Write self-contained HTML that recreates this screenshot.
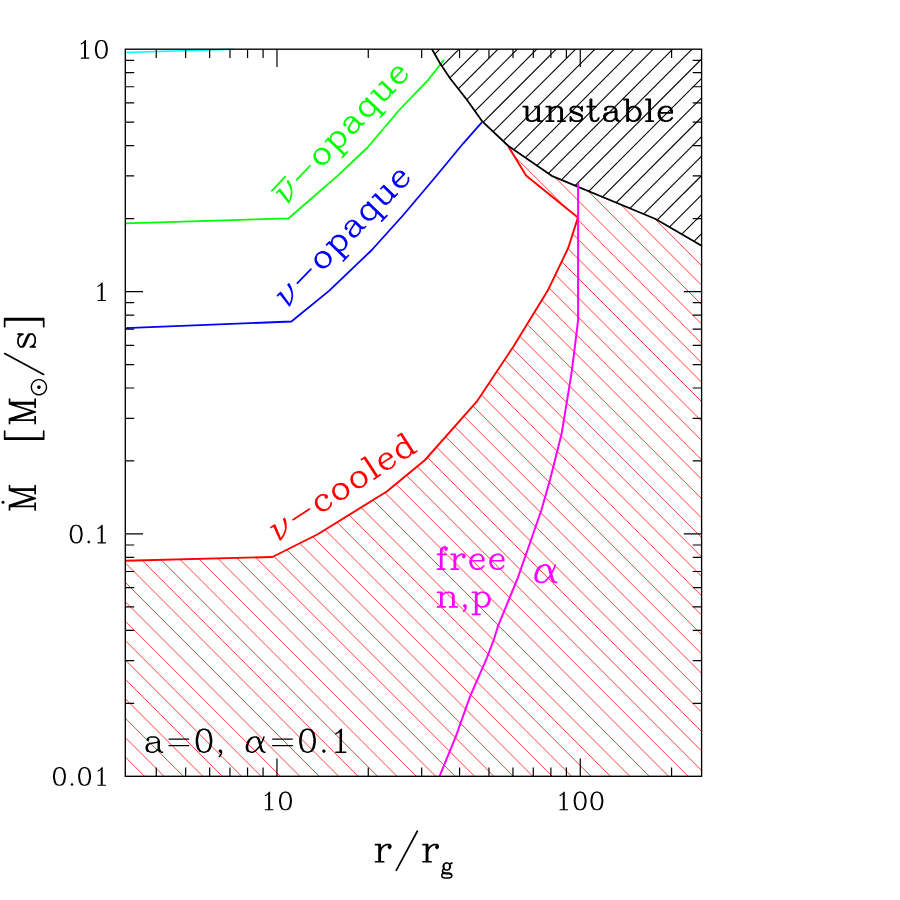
<!DOCTYPE html>
<html><head><meta charset="utf-8"><title>plot</title>
<style>
html,body{margin:0;padding:0;background:#fff;}
body{width:900px;height:900px;overflow:hidden;}
svg{display:block;}
body{font-family:"Liberation Serif",serif;}
</style></head><body>
<svg width="900" height="900" viewBox="0 0 900 900">
<rect width="900" height="900" fill="#fff"/>
<defs>
<clipPath id="cb"><polygon points="432.0,49.2 440.0,63.3 450.0,78.3 466.7,99.5 482.5,121.7 508.4,146.0 551.7,175.8 655.6,219.0 701.6,245.7 701.6,49.2"/></clipPath>
<clipPath id="cr"><polygon points="125.3,560.7 272.4,557.0 318.2,534.0 386.8,491.5 425.0,460.0 476.7,401.7 513.3,346.7 547.9,290.3 568.2,248.0 577.9,217.6 526.0,175.4 508.6,146.8 551.7,175.8 655.6,219.0 701.6,245.7 701.6,776.3 125.3,776.3"/></clipPath>
</defs>
<g clip-path="url(#cr)" stroke="#ff3030" stroke-width="0.92" fill="none">
<line x1="120.30" y1="849.05" x2="706.60" y2="1435.35"/>
<line x1="120.30" y1="829.64" x2="706.60" y2="1415.94"/>
<line x1="120.30" y1="810.23" x2="706.60" y2="1396.53"/>
<line x1="120.30" y1="790.82" x2="706.60" y2="1377.12"/>
<line x1="120.30" y1="771.41" x2="706.60" y2="1357.71"/>
<line x1="120.30" y1="752.00" x2="706.60" y2="1338.30"/>
<line x1="120.30" y1="732.59" x2="706.60" y2="1318.89"/>
<line x1="120.30" y1="713.18" x2="706.60" y2="1299.48"/>
<line x1="120.30" y1="693.77" x2="706.60" y2="1280.07"/>
<line x1="120.30" y1="674.36" x2="706.60" y2="1260.66"/>
<line x1="120.30" y1="654.95" x2="706.60" y2="1241.25"/>
<line x1="120.30" y1="635.54" x2="706.60" y2="1221.84"/>
<line x1="120.30" y1="616.13" x2="706.60" y2="1202.43"/>
<line x1="120.30" y1="596.72" x2="706.60" y2="1183.02"/>
<line x1="120.30" y1="577.31" x2="706.60" y2="1163.61"/>
<line x1="120.30" y1="557.90" x2="706.60" y2="1144.20"/>
<line x1="120.30" y1="538.49" x2="706.60" y2="1124.79"/>
<line x1="120.30" y1="519.08" x2="706.60" y2="1105.38"/>
<line x1="120.30" y1="499.67" x2="706.60" y2="1085.97"/>
<line x1="120.30" y1="480.26" x2="706.60" y2="1066.56"/>
<line x1="120.30" y1="460.85" x2="706.60" y2="1047.15"/>
<line x1="120.30" y1="441.44" x2="706.60" y2="1027.74"/>
<line x1="120.30" y1="422.03" x2="706.60" y2="1008.33"/>
<line x1="120.30" y1="402.62" x2="706.60" y2="988.92"/>
<line x1="120.30" y1="383.21" x2="706.60" y2="969.51"/>
<line x1="120.30" y1="363.80" x2="706.60" y2="950.10"/>
<line x1="120.30" y1="344.39" x2="706.60" y2="930.69"/>
<line x1="120.30" y1="324.98" x2="706.60" y2="911.28"/>
<line x1="120.30" y1="305.57" x2="706.60" y2="891.87"/>
<line x1="120.30" y1="286.16" x2="706.60" y2="872.46"/>
<line x1="120.30" y1="266.75" x2="706.60" y2="853.05"/>
<line x1="120.30" y1="247.34" x2="706.60" y2="833.64"/>
<line x1="120.30" y1="227.93" x2="706.60" y2="814.23"/>
<line x1="120.30" y1="208.52" x2="706.60" y2="794.82"/>
<line x1="120.30" y1="189.11" x2="706.60" y2="775.41"/>
<line x1="120.30" y1="169.70" x2="706.60" y2="756.00"/>
<line x1="120.30" y1="150.29" x2="706.60" y2="736.59"/>
<line x1="120.30" y1="130.88" x2="706.60" y2="717.18"/>
<line x1="120.30" y1="111.47" x2="706.60" y2="697.77"/>
<line x1="120.30" y1="92.06" x2="706.60" y2="678.36"/>
<line x1="120.30" y1="72.65" x2="706.60" y2="658.95"/>
<line x1="120.30" y1="53.24" x2="706.60" y2="639.54"/>
<line x1="120.30" y1="33.83" x2="706.60" y2="620.13"/>
<line x1="120.30" y1="14.42" x2="706.60" y2="600.72"/>
<line x1="120.30" y1="-4.99" x2="706.60" y2="581.31"/>
<line x1="120.30" y1="-24.40" x2="706.60" y2="561.90"/>
<line x1="120.30" y1="-43.81" x2="706.60" y2="542.49"/>
<line x1="120.30" y1="-63.22" x2="706.60" y2="523.08"/>
<line x1="120.30" y1="-82.63" x2="706.60" y2="503.67"/>
<line x1="120.30" y1="-102.04" x2="706.60" y2="484.26"/>
<line x1="120.30" y1="-121.45" x2="706.60" y2="464.85"/>
<line x1="120.30" y1="-140.86" x2="706.60" y2="445.44"/>
<line x1="120.30" y1="-160.27" x2="706.60" y2="426.03"/>
<line x1="120.30" y1="-179.68" x2="706.60" y2="406.62"/>
<line x1="120.30" y1="-199.09" x2="706.60" y2="387.21"/>
<line x1="120.30" y1="-218.50" x2="706.60" y2="367.80"/>
<line x1="120.30" y1="-237.91" x2="706.60" y2="348.39"/>
<line x1="120.30" y1="-257.32" x2="706.60" y2="328.98"/>
<line x1="120.30" y1="-276.73" x2="706.60" y2="309.57"/>
<line x1="120.30" y1="-296.14" x2="706.60" y2="290.16"/>
<line x1="120.30" y1="-315.55" x2="706.60" y2="270.75"/>
<line x1="120.30" y1="-334.96" x2="706.60" y2="251.34"/>
<line x1="120.30" y1="-354.37" x2="706.60" y2="231.93"/>
<line x1="120.30" y1="-373.78" x2="706.60" y2="212.52"/>
<line x1="120.30" y1="-393.19" x2="706.60" y2="193.11"/>
<line x1="120.30" y1="-412.60" x2="706.60" y2="173.70"/>
<line x1="120.30" y1="-432.01" x2="706.60" y2="154.29"/>
<line x1="120.30" y1="-451.42" x2="706.60" y2="134.88"/>
<line x1="120.30" y1="-470.83" x2="706.60" y2="115.47"/>
<line x1="120.30" y1="-490.24" x2="706.60" y2="96.06"/>
<line x1="120.30" y1="-509.65" x2="706.60" y2="76.65"/>
<line x1="120.30" y1="-529.06" x2="706.60" y2="57.24"/>
</g>
<g clip-path="url(#cb)" stroke="#000" stroke-width="1.1" fill="none">
<line x1="125.30" y1="324.78" x2="706.60" y2="-256.52"/>
<line x1="125.30" y1="344.19" x2="706.60" y2="-237.11"/>
<line x1="125.30" y1="363.60" x2="706.60" y2="-217.70"/>
<line x1="125.30" y1="383.01" x2="706.60" y2="-198.29"/>
<line x1="125.30" y1="402.42" x2="706.60" y2="-178.88"/>
<line x1="125.30" y1="421.83" x2="706.60" y2="-159.47"/>
<line x1="125.30" y1="441.24" x2="706.60" y2="-140.06"/>
<line x1="125.30" y1="460.65" x2="706.60" y2="-120.65"/>
<line x1="125.30" y1="480.06" x2="706.60" y2="-101.24"/>
<line x1="125.30" y1="499.47" x2="706.60" y2="-81.83"/>
<line x1="125.30" y1="518.88" x2="706.60" y2="-62.42"/>
<line x1="125.30" y1="538.29" x2="706.60" y2="-43.01"/>
<line x1="125.30" y1="557.70" x2="706.60" y2="-23.60"/>
<line x1="125.30" y1="577.11" x2="706.60" y2="-4.19"/>
<line x1="125.30" y1="596.52" x2="706.60" y2="15.22"/>
<line x1="125.30" y1="615.93" x2="706.60" y2="34.63"/>
<line x1="125.30" y1="635.34" x2="706.60" y2="54.04"/>
<line x1="125.30" y1="654.75" x2="706.60" y2="73.45"/>
<line x1="125.30" y1="674.16" x2="706.60" y2="92.86"/>
<line x1="125.30" y1="693.57" x2="706.60" y2="112.27"/>
<line x1="125.30" y1="712.98" x2="706.60" y2="131.68"/>
<line x1="125.30" y1="732.39" x2="706.60" y2="151.09"/>
<line x1="125.30" y1="751.80" x2="706.60" y2="170.50"/>
<line x1="125.30" y1="771.21" x2="706.60" y2="189.91"/>
<line x1="125.30" y1="790.62" x2="706.60" y2="209.32"/>
<line x1="125.30" y1="810.03" x2="706.60" y2="228.73"/>
<line x1="125.30" y1="829.44" x2="706.60" y2="248.14"/>
</g>
<polyline points="125.3,52.5 233.0,49.2" fill="none" stroke="#00ffff" stroke-width="1.6"/>
<polyline points="125.3,223.3 288.7,218.3 337.8,175.6 367.5,147.5 399.3,110.0 428.7,79.3 444.0,59.8" fill="none" stroke="#00ff00" stroke-width="1.8" stroke-linejoin="round"/>
<polyline points="125.3,328.2 291.4,321.5 329.0,290.9 371.8,250.0 403.3,215.0 435.0,177.5 463.3,143.3 481.8,122.3" fill="none" stroke="#0000ff" stroke-width="1.8" stroke-linejoin="round"/>
<polyline points="125.3,560.7 272.4,557.0 318.2,534.0 386.8,491.5 425.0,460.0 476.7,401.7 513.3,346.7 547.9,290.3 568.2,248.0 577.9,217.6 526.0,175.4 508.6,146.8" fill="none" stroke="#ff0000" stroke-width="1.9" stroke-linejoin="round"/>
<polyline points="432.0,49.2 440.0,63.3 450.0,78.3 466.7,99.5 482.5,121.7 508.4,146.0 551.7,175.8 655.6,219.0 701.6,245.7" fill="none" stroke="#000" stroke-width="1.8" stroke-linejoin="round"/>
<polyline points="578.1,183.0 578.1,320.0 574.3,351.3 571.5,373.3 561.7,433.3 550.0,480.0 541.1,511.0 531.0,540.0 517.8,577.8 497.8,626.7 493.7,640.0 486.7,658.3 470.0,696.7 455.8,736.7 439.5,776.3" fill="none" stroke="#ff00ff" stroke-width="2" stroke-linejoin="round"/>
<rect x="125.3" y="49.2" width="576.3" height="727.1" fill="none" stroke="#000" stroke-width="1.35"/>
<path d="M156.26,776.3v-8.9M156.26,49.2v8.9M185.65,776.3v-8.9M185.65,49.2v8.9M209.67,776.3v-8.9M209.67,49.2v8.9M229.97,776.3v-8.9M229.97,49.2v8.9M247.56,776.3v-8.9M247.56,49.2v8.9M263.08,776.3v-8.9M263.08,49.2v8.9M276.96,776.3v-17.8M276.96,49.2v17.8M368.27,776.3v-8.9M368.27,49.2v8.9M421.68,776.3v-8.9M421.68,49.2v8.9M459.57,776.3v-8.9M459.57,49.2v8.9M488.97,776.3v-8.9M488.97,49.2v8.9M512.98,776.3v-8.9M512.98,49.2v8.9M533.29,776.3v-8.9M533.29,49.2v8.9M550.88,776.3v-8.9M550.88,49.2v8.9M566.39,776.3v-8.9M566.39,49.2v8.9M580.27,776.3v-17.8M580.27,49.2v17.8M671.58,776.3v-8.9M671.58,49.2v8.9M125.3,703.34h8.9M701.6,703.34h-8.9M125.3,660.66h8.9M701.6,660.66h-8.9M125.3,630.38h8.9M701.6,630.38h-8.9M125.3,606.89h8.9M701.6,606.89h-8.9M125.3,587.70h8.9M701.6,587.70h-8.9M125.3,571.48h8.9M701.6,571.48h-8.9M125.3,557.42h8.9M701.6,557.42h-8.9M125.3,545.02h8.9M701.6,545.02h-8.9M125.3,533.93h17.8M701.6,533.93h-17.8M125.3,460.97h8.9M701.6,460.97h-8.9M125.3,418.30h8.9M701.6,418.30h-8.9M125.3,388.01h8.9M701.6,388.01h-8.9M125.3,364.53h8.9M701.6,364.53h-8.9M125.3,345.34h8.9M701.6,345.34h-8.9M125.3,329.11h8.9M701.6,329.11h-8.9M125.3,315.05h8.9M701.6,315.05h-8.9M125.3,302.66h8.9M701.6,302.66h-8.9M125.3,291.57h17.8M701.6,291.57h-17.8M125.3,218.61h8.9M701.6,218.61h-8.9M125.3,175.93h8.9M701.6,175.93h-8.9M125.3,145.65h8.9M701.6,145.65h-8.9M125.3,122.16h8.9M701.6,122.16h-8.9M125.3,102.97h8.9M701.6,102.97h-8.9M125.3,86.74h8.9M701.6,86.74h-8.9M125.3,72.69h8.9M701.6,72.69h-8.9M125.3,60.29h8.9M701.6,60.29h-8.9" stroke="#000" stroke-width="1.2" fill="none"/>
<path d="M265.36,795.48L267.04,794.64L269.55,792.13L269.55,809.72M268.71,792.96L268.71,809.72M265.36,809.72L272.90,809.72M284.63,792.13L282.12,792.96L280.44,795.48L279.61,799.67L279.61,802.18L280.44,806.37L282.12,808.89L284.63,809.72L286.31,809.72L288.82,808.89L290.50,806.37L291.34,802.18L291.34,799.67L290.50,795.48L288.82,792.96L286.31,792.13L284.63,792.13M284.63,792.13L282.96,792.96L282.12,793.80L281.28,795.48L280.44,799.67L280.44,802.18L281.28,806.37L282.12,808.05L282.96,808.89L284.63,809.72M286.31,809.72L287.99,808.89L288.82,808.05L289.66,806.37L290.50,802.18L290.50,799.67L289.66,795.48L288.82,793.80L287.99,792.96L286.31,792.13" fill="none" stroke="#000" stroke-width="1.15" stroke-linecap="round" stroke-linejoin="round"/>
<path d="M560.03,795.48L561.71,794.64L564.22,792.13L564.22,809.72M563.38,792.96L563.38,809.72M560.03,809.72L567.57,809.72M579.31,792.13L576.79,792.96L575.12,795.48L574.28,799.67L574.28,802.18L575.12,806.37L576.79,808.89L579.31,809.72L580.98,809.72L583.50,808.89L585.17,806.37L586.01,802.18L586.01,799.67L585.17,795.48L583.50,792.96L580.98,792.13L579.31,792.13M579.31,792.13L577.63,792.96L576.79,793.80L575.95,795.48L575.12,799.67L575.12,802.18L575.95,806.37L576.79,808.05L577.63,808.89L579.31,809.72M580.98,809.72L582.66,808.89L583.50,808.05L584.33,806.37L585.17,802.18L585.17,799.67L584.33,795.48L583.50,793.80L582.66,792.96L580.98,792.13M596.07,792.13L593.55,792.96L591.88,795.48L591.04,799.67L591.04,802.18L591.88,806.37L593.55,808.89L596.07,809.72L597.74,809.72L600.25,808.89L601.93,806.37L602.77,802.18L602.77,799.67L601.93,795.48L600.25,792.96L597.74,792.13L596.07,792.13M596.07,792.13L594.39,792.96L593.55,793.80L592.71,795.48L591.88,799.67L591.88,802.18L592.71,806.37L593.55,808.05L594.39,808.89L596.07,809.72M597.74,809.72L599.42,808.89L600.25,808.05L601.09,806.37L601.93,802.18L601.93,799.67L601.09,795.48L600.25,793.80L599.42,792.96L597.74,792.13" fill="none" stroke="#000" stroke-width="1.15" stroke-linecap="round" stroke-linejoin="round"/>
<path d="M81.25,43.88L82.92,43.04L85.44,40.53L85.44,58.12M84.60,41.36L84.60,58.12M81.25,58.12L88.79,58.12M100.52,40.53L98.01,41.36L96.33,43.88L95.49,48.07L95.49,50.58L96.33,54.77L98.01,57.29L100.52,58.12L102.20,58.12L104.71,57.29L106.39,54.77L107.22,50.58L107.22,48.07L106.39,43.88L104.71,41.36L102.20,40.53L100.52,40.53M100.52,40.53L98.84,41.36L98.01,42.20L97.17,43.88L96.33,48.07L96.33,50.58L97.17,54.77L98.01,56.45L98.84,57.29L100.52,58.12M102.20,58.12L103.87,57.29L104.71,56.45L105.55,54.77L106.39,50.58L106.39,48.07L105.55,43.88L104.71,42.20L103.87,41.36L102.20,40.53" fill="none" stroke="#000" stroke-width="1.15" stroke-linecap="round" stroke-linejoin="round"/>
<path d="M97.98,286.25L99.66,285.41L102.17,282.89L102.17,300.49M101.33,283.73L101.33,300.49M97.98,300.49L105.52,300.49" fill="none" stroke="#000" stroke-width="1.15" stroke-linecap="round" stroke-linejoin="round"/>
<path d="M75.36,525.26L72.84,526.10L71.17,528.61L70.33,532.80L70.33,535.32L71.17,539.51L72.84,542.02L75.36,542.86L77.03,542.86L79.55,542.02L81.22,539.51L82.06,535.32L82.06,532.80L81.22,528.61L79.55,526.10L77.03,525.26L75.36,525.26M75.36,525.26L73.68,526.10L72.84,526.94L72.00,528.61L71.17,532.80L71.17,535.32L72.00,539.51L72.84,541.18L73.68,542.02L75.36,542.86M77.03,542.86L78.71,542.02L79.55,541.18L80.38,539.51L81.22,535.32L81.22,532.80L80.38,528.61L79.55,526.94L78.71,526.10L77.03,525.26M88.76,541.18L87.93,542.02L88.76,542.86L89.60,542.02L88.76,541.18M97.98,528.61L99.66,527.77L102.17,525.26L102.17,542.86M101.33,526.10L101.33,542.86M97.98,542.86L105.52,542.86" fill="none" stroke="#000" stroke-width="1.15" stroke-linecap="round" stroke-linejoin="round"/>
<path d="M58.60,767.63L56.08,768.46L54.41,770.98L53.57,775.17L53.57,777.68L54.41,781.87L56.08,784.39L58.60,785.22L60.27,785.22L62.79,784.39L64.46,781.87L65.30,777.68L65.30,775.17L64.46,770.98L62.79,768.46L60.27,767.63L58.60,767.63M58.60,767.63L56.92,768.46L56.08,769.30L55.24,770.98L54.41,775.17L54.41,777.68L55.24,781.87L56.08,783.55L56.92,784.39L58.60,785.22M60.27,785.22L61.95,784.39L62.79,783.55L63.62,781.87L64.46,777.68L64.46,775.17L63.62,770.98L62.79,769.30L61.95,768.46L60.27,767.63M72.00,783.55L71.17,784.39L72.00,785.22L72.84,784.39L72.00,783.55M83.74,767.63L81.22,768.46L79.55,770.98L78.71,775.17L78.71,777.68L79.55,781.87L81.22,784.39L83.74,785.22L85.41,785.22L87.93,784.39L89.60,781.87L90.44,777.68L90.44,775.17L89.60,770.98L87.93,768.46L85.41,767.63L83.74,767.63M83.74,767.63L82.06,768.46L81.22,769.30L80.38,770.98L79.55,775.17L79.55,777.68L80.38,781.87L81.22,783.55L82.06,784.39L83.74,785.22M85.41,785.22L87.09,784.39L87.93,783.55L88.76,781.87L89.60,777.68L89.60,775.17L88.76,770.98L87.93,769.30L87.09,768.46L85.41,767.63M97.98,770.98L99.66,770.14L102.17,767.63L102.17,785.22M101.33,768.46L101.33,785.22M97.98,785.22L105.52,785.22" fill="none" stroke="#000" stroke-width="1.15" stroke-linecap="round" stroke-linejoin="round"/>
<path d="M379.06,844.67L379.06,861.75M380.23,844.67L380.23,861.75M380.23,851.99L381.40,848.33L383.74,845.89L386.08,844.67L389.59,844.67L390.76,845.89L390.76,847.11L389.59,848.33L388.42,847.11L389.59,845.89M375.55,844.67L380.23,844.67M375.55,861.75L383.74,861.75" fill="none" stroke="#000" stroke-width="1.7" stroke-linecap="round" stroke-linejoin="round"/>

<path d="M417.31,831.25L396.25,870.29" fill="none" stroke="#000" stroke-width="1.7" stroke-linecap="round" stroke-linejoin="round"/>
<path d="M426.46,844.67L426.46,861.75M427.63,844.67L427.63,861.75M427.63,851.99L428.80,848.33L431.14,845.89L433.48,844.67L436.99,844.67L438.16,845.89L438.16,847.11L436.99,848.33L435.82,847.11L436.99,845.89M422.95,844.67L427.63,844.67M422.95,861.75L431.14,861.75" fill="none" stroke="#000" stroke-width="1.7" stroke-linecap="round" stroke-linejoin="round"/>

<path d="M446.07,862.90L444.63,863.62L443.91,864.34L443.19,865.78L443.19,867.22L443.91,868.66L444.63,869.38L446.07,870.10L447.51,870.10L448.95,869.38L449.67,868.66L450.39,867.22L450.39,865.78L449.67,864.34L448.95,863.62L447.51,862.90L446.07,862.90M444.63,863.62L443.91,865.06L443.91,867.94L444.63,869.38M448.95,869.38L449.67,867.94L449.67,865.06L448.95,863.62M449.67,864.34L450.39,863.62L451.83,862.90L451.83,863.62L450.39,863.62M443.91,868.66L443.19,869.38L442.47,870.82L442.47,871.54L443.19,872.98L445.35,873.70L448.95,873.70L451.11,874.42L451.83,875.14M442.47,871.54L443.19,872.26L445.35,872.98L448.95,872.98L451.11,873.70L451.83,875.14L451.83,875.86L451.11,877.30L448.95,878.02L444.63,878.02L442.47,877.30L441.75,875.86L441.75,875.14L442.47,873.70L444.63,872.98" fill="none" stroke="#000" stroke-width="1.5" stroke-linecap="round" stroke-linejoin="round"/>
<g transform="rotate(-90)">
<path d="M-506.47,9.53L-506.47,35.15M-505.31,9.53L-498.35,31.49M-506.47,9.53L-498.35,35.15M-490.23,9.53L-498.35,35.15M-490.23,9.53L-490.23,35.15M-489.07,9.53L-489.07,35.15M-509.95,9.53L-505.31,9.53M-490.23,9.53L-485.59,9.53M-509.95,35.15L-502.99,35.15M-493.71,35.15L-485.59,35.15" fill="none" stroke="#000" stroke-width="1.7" stroke-linecap="round" stroke-linejoin="round"/>
<circle cx="-502.3" cy="3.0" r="1.5" fill="#000"/>

<path d="M-439.15,4.65L-439.15,43.69M-437.99,4.65L-437.99,43.69M-439.15,4.65L-431.03,4.65M-439.15,43.69L-431.03,43.69" fill="none" stroke="#000" stroke-width="1.7" stroke-linecap="round" stroke-linejoin="round"/>
<path d="M-420.07,9.53L-420.07,35.15M-418.91,9.53L-411.95,31.49M-420.07,9.53L-411.95,35.15M-403.83,9.53L-411.95,35.15M-403.83,9.53L-403.83,35.15M-402.67,9.53L-402.67,35.15M-423.55,9.53L-418.91,9.53M-403.83,9.53L-399.19,9.53M-423.55,35.15L-416.59,35.15M-407.31,35.15L-399.19,35.15" fill="none" stroke="#000" stroke-width="1.7" stroke-linecap="round" stroke-linejoin="round"/>
<path d="M-388.26,31.36L-390.42,32.08L-392.58,33.52L-394.02,35.68L-394.74,37.84L-394.74,40.00L-394.02,42.16L-392.58,44.32L-390.42,45.76L-388.26,46.48L-386.10,46.48L-383.94,45.76L-381.78,44.32L-380.34,42.16L-379.62,40.00L-379.62,37.84L-380.34,35.68L-381.78,33.52L-383.94,32.08L-386.10,31.36L-388.26,31.36M-387.54,37.84L-388.26,38.56L-388.26,39.28L-387.54,40.00L-386.82,40.00L-386.10,39.28L-386.10,38.56L-386.82,37.84L-387.54,37.84M-387.54,38.56L-387.54,39.28L-386.82,39.28L-386.82,38.56L-387.54,38.56" fill="none" stroke="#000" stroke-width="1.4" stroke-linecap="round" stroke-linejoin="round"/>
<path d="M-353.57,4.65L-374.45,43.69" fill="none" stroke="#000" stroke-width="1.7" stroke-linecap="round" stroke-linejoin="round"/>
<path d="M-335.35,20.51L-334.19,18.07L-334.19,22.95L-335.35,20.51L-336.51,19.29L-338.83,18.07L-343.47,18.07L-345.79,19.29L-346.95,20.51L-346.95,22.95L-345.79,24.17L-343.47,25.39L-337.67,27.83L-335.35,29.05L-334.19,30.27M-346.95,21.73L-345.79,22.95L-343.47,24.17L-337.67,26.61L-335.35,27.83L-334.19,29.05L-334.19,32.71L-335.35,33.93L-337.67,35.15L-342.31,35.15L-344.63,33.93L-345.79,32.71L-346.95,30.27L-346.95,35.15L-345.79,32.71" fill="none" stroke="#000" stroke-width="1.7" stroke-linecap="round" stroke-linejoin="round"/>
<path d="M-319.79,4.65L-319.79,43.69M-318.63,4.65L-318.63,43.69M-326.75,4.65L-318.63,4.65M-326.75,43.69L-318.63,43.69" fill="none" stroke="#000" stroke-width="1.7" stroke-linecap="round" stroke-linejoin="round"/>
</g>
<path d="M526.47,106.66L526.47,117.99L527.52,120.05L530.66,121.08L532.76,121.08L535.90,120.05L538.00,117.99M527.52,106.66L527.52,117.99L528.56,120.05L530.66,121.08M538.00,106.66L538.00,121.08M539.04,106.66L539.04,121.08M523.32,106.66L527.52,106.66M534.85,106.66L539.04,106.66M538.00,121.08L542.19,121.08M549.52,106.66L549.52,121.08M550.57,106.66L550.57,121.08M550.57,109.75L552.67,107.69L555.81,106.66L557.91,106.66L561.05,107.69L562.10,109.75L562.10,121.08M557.91,106.66L560.00,107.69L561.05,109.75L561.05,121.08M546.38,106.66L550.57,106.66M546.38,121.08L553.72,121.08M557.91,121.08L565.25,121.08M580.97,108.72L582.01,106.66L582.01,110.78L580.97,108.72L579.92,107.69L577.82,106.66L573.63,106.66L571.53,107.69L570.49,108.72L570.49,110.78L571.53,111.81L573.63,112.84L578.87,114.90L580.97,115.93L582.01,116.96M570.49,109.75L571.53,110.78L573.63,111.81L578.87,113.87L580.97,114.90L582.01,115.93L582.01,119.02L580.97,120.05L578.87,121.08L574.68,121.08L572.58,120.05L571.53,119.02L570.49,116.96L570.49,121.08L571.53,119.02M590.40,99.45L590.40,116.96L591.45,120.05L593.54,121.08L595.64,121.08L597.73,120.05L598.78,117.99M591.45,99.45L591.45,116.96L592.49,120.05L593.54,121.08M587.25,106.66L595.64,106.66M606.12,108.72L606.12,109.75L605.07,109.75L605.07,108.72L606.12,107.69L608.21,106.66L612.41,106.66L614.50,107.69L615.55,108.72L616.60,110.78L616.60,117.99L617.65,120.05L618.69,121.08M615.55,108.72L615.55,117.99L616.60,120.05L618.69,121.08L619.74,121.08M615.55,110.78L614.50,111.81L608.21,112.84L605.07,113.87L604.02,115.93L604.02,117.99L605.07,120.05L608.21,121.08L611.36,121.08L613.45,120.05L615.55,117.99M608.21,112.84L606.12,113.87L605.07,115.93L605.07,117.99L606.12,120.05L608.21,121.08M627.08,99.45L627.08,121.08M628.13,99.45L628.13,121.08M628.13,109.75L630.22,107.69L632.32,106.66L634.41,106.66L637.56,107.69L639.65,109.75L640.70,112.84L640.70,114.90L639.65,117.99L637.56,120.05L634.41,121.08L632.32,121.08L630.22,120.05L628.13,117.99M634.41,106.66L636.51,107.69L638.61,109.75L639.65,112.84L639.65,114.90L638.61,117.99L636.51,120.05L634.41,121.08M623.93,99.45L628.13,99.45M649.09,99.45L649.09,121.08M650.13,99.45L650.13,121.08M645.94,99.45L650.13,99.45M645.94,121.08L653.28,121.08M659.57,112.84L672.14,112.84L672.14,110.78L671.09,108.72L670.05,107.69L667.95,106.66L664.81,106.66L661.66,107.69L659.57,109.75L658.52,112.84L658.52,114.90L659.57,117.99L661.66,120.05L664.81,121.08L666.90,121.08L670.05,120.05L672.14,117.99M671.09,112.84L671.09,109.75L670.05,107.69M664.81,106.66L662.71,107.69L660.61,109.75L659.57,112.84L659.57,114.90L660.61,117.99L662.71,120.05L664.81,121.08" fill="none" stroke="#000" stroke-width="1.85" stroke-linecap="round" stroke-linejoin="round"/>
<path d="M445.95,548.15L444.90,549.20L445.95,550.25L447.00,549.20L447.00,548.15L445.95,547.10L443.85,547.10L441.75,548.15L440.70,550.25L440.70,569.15M443.85,547.10L442.80,548.15L441.75,550.25L441.75,569.15M437.55,554.45L445.95,554.45M437.55,569.15L444.90,569.15M454.35,554.45L454.35,569.15M455.40,554.45L455.40,569.15M455.40,560.75L456.45,557.60L458.55,555.50L460.65,554.45L463.80,554.45L464.85,555.50L464.85,556.55L463.80,557.60L462.75,556.55L463.80,555.50M451.20,554.45L455.40,554.45M451.20,569.15L458.55,569.15M471.15,560.75L483.75,560.75L483.75,558.65L482.70,556.55L481.65,555.50L479.55,554.45L476.40,554.45L473.25,555.50L471.15,557.60L470.10,560.75L470.10,562.85L471.15,566.00L473.25,568.10L476.40,569.15L478.50,569.15L481.65,568.10L483.75,566.00M482.70,560.75L482.70,557.60L481.65,555.50M476.40,554.45L474.30,555.50L472.20,557.60L471.15,560.75L471.15,562.85L472.20,566.00L474.30,568.10L476.40,569.15M491.10,560.75L503.70,560.75L503.70,558.65L502.65,556.55L501.60,555.50L499.50,554.45L496.35,554.45L493.20,555.50L491.10,557.60L490.05,560.75L490.05,562.85L491.10,566.00L493.20,568.10L496.35,569.15L498.45,569.15L501.60,568.10L503.70,566.00M502.65,560.75L502.65,557.60L501.60,555.50M496.35,554.45L494.25,555.50L492.15,557.60L491.10,560.75L491.10,562.85L492.15,566.00L494.25,568.10L496.35,569.15" fill="none" stroke="#ff00ff" stroke-width="1.7" stroke-linecap="round" stroke-linejoin="round"/>
<path d="M440.82,592.25L440.82,606.95M441.91,592.25L441.91,606.95M441.91,595.40L444.09,593.30L447.36,592.25L449.54,592.25L452.81,593.30L453.90,595.40L453.90,606.95M449.54,592.25L451.72,593.30L452.81,595.40L452.81,606.95M437.55,592.25L441.91,592.25M437.55,606.95L445.18,606.95M449.54,606.95L457.17,606.95M464.80,606.95L463.71,605.90L464.80,604.85L465.89,605.90L465.89,608.00L464.80,610.10L463.71,611.15M475.70,592.25L475.70,614.30M476.79,592.25L476.79,614.30M476.79,595.40L478.97,593.30L481.15,592.25L483.33,592.25L486.60,593.30L488.78,595.40L489.87,598.55L489.87,600.65L488.78,603.80L486.60,605.90L483.33,606.95L481.15,606.95L478.97,605.90L476.79,603.80M483.33,592.25L485.51,593.30L487.69,595.40L488.78,598.55L488.78,600.65L487.69,603.80L485.51,605.90L483.33,606.95M472.43,592.25L476.79,592.25M472.43,614.30L480.06,614.30" fill="none" stroke="#ff00ff" stroke-width="1.7" stroke-linecap="round" stroke-linejoin="round"/>
<path d="M544.00,564.95L540.25,566.20L537.75,568.70L536.50,571.20L535.25,574.95L535.25,578.70L536.50,581.20L540.25,582.45L542.75,582.45L545.25,581.20L549.00,577.45L551.50,573.70L554.00,568.70L555.25,564.95M544.00,564.95L541.50,566.20L539.00,568.70L537.75,571.20L536.50,574.95L536.50,578.70L537.75,581.20L540.25,582.45M544.00,564.95L546.50,564.95L549.00,566.20L550.25,568.70L552.75,578.70L554.00,581.20L555.25,582.45M546.50,564.95L547.75,566.20L549.00,568.70L551.50,578.70L552.75,581.20L555.25,582.45L556.50,582.45" fill="none" stroke="#ff00ff" stroke-width="1.7" stroke-linecap="round" stroke-linejoin="round"/>
<path d="M148.40,739.10L148.40,740.19L147.31,740.19L147.31,739.10L148.40,738.00L150.58,736.91L154.94,736.91L157.12,738.00L158.21,739.10L159.30,741.27L159.30,748.90L160.39,751.09L161.48,752.17M158.21,739.10L158.21,748.90L159.30,751.09L161.48,752.17L162.57,752.17M158.21,741.27L157.12,742.37L150.58,743.46L147.31,744.54L146.22,746.73L146.22,748.90L147.31,751.09L150.58,752.17L153.85,752.17L156.03,751.09L158.21,748.90M150.58,743.46L148.40,744.54L147.31,746.73L147.31,748.90L148.40,751.09L150.58,752.17M169.12,739.10L188.73,739.10M169.12,745.63L188.73,745.63M202.91,729.28L199.63,730.38L197.46,733.64L196.37,739.10L196.37,742.37L197.46,747.82L199.63,751.09L202.91,752.17L205.09,752.17L208.35,751.09L210.53,747.82L211.62,742.37L211.62,739.10L210.53,733.64L208.35,730.38L205.09,729.28L202.91,729.28M202.91,729.28L200.72,730.38L199.63,731.47L198.54,733.64L197.46,739.10L197.46,742.37L198.54,747.82L199.63,750.00L200.72,751.09L202.91,752.17M205.09,752.17L207.26,751.09L208.35,750.00L209.44,747.82L210.53,742.37L210.53,739.10L209.44,733.64L208.35,731.47L207.26,730.38L205.09,729.28M220.34,752.17L219.26,751.09L220.34,750.00L221.44,751.09L221.44,753.26L220.34,755.45L219.26,756.53M254.14,736.91L250.87,738.00L248.69,740.19L247.60,742.37L246.51,745.63L246.51,748.90L247.60,751.09L250.87,752.17L253.05,752.17L255.23,751.09L258.50,747.82L260.68,744.54L262.86,740.19L263.94,736.91M254.14,736.91L251.96,738.00L249.78,740.19L248.69,742.37L247.60,745.63L247.60,748.90L248.69,751.09L250.87,752.17M254.14,736.91L256.31,736.91L258.50,738.00L259.59,740.19L261.76,748.90L262.86,751.09L263.94,752.17M256.31,736.91L257.41,738.00L258.50,740.19L260.68,748.90L261.76,751.09L263.94,752.17L265.04,752.17M272.67,739.10L292.29,739.10M272.67,745.63L292.29,745.63M306.45,729.28L303.19,730.38L301.00,733.64L299.91,739.10L299.91,742.37L301.00,747.82L303.19,751.09L306.45,752.17L308.63,752.17L311.90,751.09L314.08,747.82L315.17,742.37L315.17,739.10L314.08,733.64L311.90,730.38L308.63,729.28L306.45,729.28M306.45,729.28L304.27,730.38L303.19,731.47L302.09,733.64L301.00,739.10L301.00,742.37L302.09,747.82L303.19,750.00L304.27,751.09L306.45,752.17M308.63,752.17L310.81,751.09L311.90,750.00L313.00,747.82L314.08,742.37L314.08,739.10L313.00,733.64L311.90,731.47L310.81,730.38L308.63,729.28M323.89,750.00L322.81,751.09L323.89,752.17L324.99,751.09L323.89,750.00M335.88,733.64L338.06,732.56L341.33,729.28L341.33,752.17M340.24,730.38L340.24,752.17M335.88,752.17L345.69,752.17" fill="none" stroke="#000" stroke-width="1.45" stroke-linecap="round" stroke-linejoin="round"/>
<g transform="translate(285.83,205.63) rotate(-46.5)"><path d="M6.51,-15.40L4.34,0.00M7.59,-15.40L6.51,-8.80L5.42,-3.30L4.34,0.00M18.45,-15.40L17.36,-11.00L15.19,-6.60M19.53,-15.40L18.45,-12.10L17.36,-9.90L15.19,-6.60L13.02,-4.40L9.77,-2.20L7.59,-1.10L4.34,0.00M3.25,-15.40L7.59,-15.40M26.04,-9.90L45.57,-9.90M59.67,-15.40L56.42,-14.30L54.25,-12.10L53.16,-8.80L53.16,-6.60L54.25,-3.30L56.42,-1.10L59.67,0.00L61.84,0.00L65.10,-1.10L67.27,-3.30L68.35,-6.60L68.35,-8.80L67.27,-12.10L65.10,-14.30L61.84,-15.40L59.67,-15.40M59.67,-15.40L57.50,-14.30L55.33,-12.10L54.25,-8.80L54.25,-6.60L55.33,-3.30L57.50,-1.10L59.67,0.00M61.84,0.00L64.02,-1.10L66.19,-3.30L67.27,-6.60L67.27,-8.80L66.19,-12.10L64.02,-14.30L61.84,-15.40M77.03,-15.40L77.03,7.70M78.12,-15.40L78.12,7.70M78.12,-12.10L80.29,-14.30L82.46,-15.40L84.63,-15.40L87.88,-14.30L90.06,-12.10L91.14,-8.80L91.14,-6.60L90.06,-3.30L87.88,-1.10L84.63,0.00L82.46,0.00L80.29,-1.10L78.12,-3.30M84.63,-15.40L86.80,-14.30L88.97,-12.10L90.06,-8.80L90.06,-6.60L88.97,-3.30L86.80,-1.10L84.63,0.00M73.78,-15.40L78.12,-15.40M73.78,7.70L81.38,7.70M99.82,-13.20L99.82,-12.10L98.73,-12.10L98.73,-13.20L99.82,-14.30L101.99,-15.40L106.33,-15.40L108.50,-14.30L109.58,-13.20L110.67,-11.00L110.67,-3.30L111.75,-1.10L112.84,0.00M109.58,-13.20L109.58,-3.30L110.67,-1.10L112.84,0.00L113.92,0.00M109.58,-11.00L108.50,-9.90L101.99,-8.80L98.73,-7.70L97.65,-5.50L97.65,-3.30L98.73,-1.10L101.99,0.00L105.24,0.00L107.41,-1.10L109.58,-3.30M101.99,-8.80L99.82,-7.70L98.73,-5.50L98.73,-3.30L99.82,-1.10L101.99,0.00M132.37,-15.40L132.37,7.70M133.45,-15.40L133.45,7.70M132.37,-12.10L130.20,-14.30L128.03,-15.40L125.86,-15.40L122.61,-14.30L120.44,-12.10L119.35,-8.80L119.35,-6.60L120.44,-3.30L122.61,-1.10L125.86,0.00L128.03,0.00L130.20,-1.10L132.37,-3.30M125.86,-15.40L123.69,-14.30L121.52,-12.10L120.44,-8.80L120.44,-6.60L121.52,-3.30L123.69,-1.10L125.86,0.00M129.12,7.70L136.71,7.70M143.22,-15.40L143.22,-3.30L144.30,-1.10L147.56,0.00L149.73,0.00L152.98,-1.10L155.15,-3.30M144.30,-15.40L144.30,-3.30L145.39,-1.10L147.56,0.00M155.15,-15.40L155.15,0.00M156.24,-15.40L156.24,0.00M139.96,-15.40L144.30,-15.40M151.90,-15.40L156.24,-15.40M155.15,0.00L159.49,0.00M166.00,-8.80L179.02,-8.80L179.02,-11.00L177.94,-13.20L176.85,-14.30L174.69,-15.40L171.43,-15.40L168.17,-14.30L166.00,-12.10L164.92,-8.80L164.92,-6.60L166.00,-3.30L168.17,-1.10L171.43,0.00L173.60,0.00L176.85,-1.10L179.02,-3.30M177.94,-8.80L177.94,-12.10L176.85,-14.30M171.43,-15.40L169.26,-14.30L167.09,-12.10L166.00,-8.80L166.00,-6.60L167.09,-3.30L169.26,-1.10L171.43,0.00" fill="none" stroke="#00ff00" stroke-width="1.7" stroke-linecap="round" stroke-linejoin="round"/><line x1="1.085" y1="-20.35" x2="20.615" y2="-20.35" stroke="#00ff00" stroke-width="1.7" stroke-linecap="round"/></g>
<g transform="translate(286.4,308.7) rotate(-46)"><path d="M6.51,-15.40L4.34,0.00M7.59,-15.40L6.51,-8.80L5.42,-3.30L4.34,0.00M18.45,-15.40L17.36,-11.00L15.19,-6.60M19.53,-15.40L18.45,-12.10L17.36,-9.90L15.19,-6.60L13.02,-4.40L9.77,-2.20L7.59,-1.10L4.34,0.00M3.25,-15.40L7.59,-15.40M26.04,-9.90L45.57,-9.90M59.67,-15.40L56.42,-14.30L54.25,-12.10L53.16,-8.80L53.16,-6.60L54.25,-3.30L56.42,-1.10L59.67,0.00L61.84,0.00L65.10,-1.10L67.27,-3.30L68.35,-6.60L68.35,-8.80L67.27,-12.10L65.10,-14.30L61.84,-15.40L59.67,-15.40M59.67,-15.40L57.50,-14.30L55.33,-12.10L54.25,-8.80L54.25,-6.60L55.33,-3.30L57.50,-1.10L59.67,0.00M61.84,0.00L64.02,-1.10L66.19,-3.30L67.27,-6.60L67.27,-8.80L66.19,-12.10L64.02,-14.30L61.84,-15.40M77.03,-15.40L77.03,7.70M78.12,-15.40L78.12,7.70M78.12,-12.10L80.29,-14.30L82.46,-15.40L84.63,-15.40L87.88,-14.30L90.06,-12.10L91.14,-8.80L91.14,-6.60L90.06,-3.30L87.88,-1.10L84.63,0.00L82.46,0.00L80.29,-1.10L78.12,-3.30M84.63,-15.40L86.80,-14.30L88.97,-12.10L90.06,-8.80L90.06,-6.60L88.97,-3.30L86.80,-1.10L84.63,0.00M73.78,-15.40L78.12,-15.40M73.78,7.70L81.38,7.70M99.82,-13.20L99.82,-12.10L98.73,-12.10L98.73,-13.20L99.82,-14.30L101.99,-15.40L106.33,-15.40L108.50,-14.30L109.58,-13.20L110.67,-11.00L110.67,-3.30L111.75,-1.10L112.84,0.00M109.58,-13.20L109.58,-3.30L110.67,-1.10L112.84,0.00L113.92,0.00M109.58,-11.00L108.50,-9.90L101.99,-8.80L98.73,-7.70L97.65,-5.50L97.65,-3.30L98.73,-1.10L101.99,0.00L105.24,0.00L107.41,-1.10L109.58,-3.30M101.99,-8.80L99.82,-7.70L98.73,-5.50L98.73,-3.30L99.82,-1.10L101.99,0.00M132.37,-15.40L132.37,7.70M133.45,-15.40L133.45,7.70M132.37,-12.10L130.20,-14.30L128.03,-15.40L125.86,-15.40L122.61,-14.30L120.44,-12.10L119.35,-8.80L119.35,-6.60L120.44,-3.30L122.61,-1.10L125.86,0.00L128.03,0.00L130.20,-1.10L132.37,-3.30M125.86,-15.40L123.69,-14.30L121.52,-12.10L120.44,-8.80L120.44,-6.60L121.52,-3.30L123.69,-1.10L125.86,0.00M129.12,7.70L136.71,7.70M143.22,-15.40L143.22,-3.30L144.30,-1.10L147.56,0.00L149.73,0.00L152.98,-1.10L155.15,-3.30M144.30,-15.40L144.30,-3.30L145.39,-1.10L147.56,0.00M155.15,-15.40L155.15,0.00M156.24,-15.40L156.24,0.00M139.96,-15.40L144.30,-15.40M151.90,-15.40L156.24,-15.40M155.15,0.00L159.49,0.00M166.00,-8.80L179.02,-8.80L179.02,-11.00L177.94,-13.20L176.85,-14.30L174.69,-15.40L171.43,-15.40L168.17,-14.30L166.00,-12.10L164.92,-8.80L164.92,-6.60L166.00,-3.30L168.17,-1.10L171.43,0.00L173.60,0.00L176.85,-1.10L179.02,-3.30M177.94,-8.80L177.94,-12.10L176.85,-14.30M171.43,-15.40L169.26,-14.30L167.09,-12.10L166.00,-8.80L166.00,-6.60L167.09,-3.30L169.26,-1.10L171.43,0.00" fill="none" stroke="#0000ff" stroke-width="1.7" stroke-linecap="round" stroke-linejoin="round"/></g>
<g transform="translate(276.67,542.16) rotate(-33)"><path d="M6.51,-15.40L4.34,0.00M7.59,-15.40L6.51,-8.80L5.42,-3.30L4.34,0.00M18.45,-15.40L17.36,-11.00L15.19,-6.60M19.53,-15.40L18.45,-12.10L17.36,-9.90L15.19,-6.60L13.02,-4.40L9.77,-2.20L7.59,-1.10L4.34,0.00M3.25,-15.40L7.59,-15.40M26.04,-9.90L45.57,-9.90M66.19,-12.10L65.10,-11.00L66.19,-9.90L67.27,-11.00L67.27,-12.10L65.10,-14.30L62.93,-15.40L59.67,-15.40L56.42,-14.30L54.25,-12.10L53.16,-8.80L53.16,-6.60L54.25,-3.30L56.42,-1.10L59.67,0.00L61.84,0.00L65.10,-1.10L67.27,-3.30M59.67,-15.40L57.50,-14.30L55.33,-12.10L54.25,-8.80L54.25,-6.60L55.33,-3.30L57.50,-1.10L59.67,0.00M80.29,-15.40L77.03,-14.30L74.86,-12.10L73.78,-8.80L73.78,-6.60L74.86,-3.30L77.03,-1.10L80.29,0.00L82.46,0.00L85.71,-1.10L87.88,-3.30L88.97,-6.60L88.97,-8.80L87.88,-12.10L85.71,-14.30L82.46,-15.40L80.29,-15.40M80.29,-15.40L78.12,-14.30L75.95,-12.10L74.86,-8.80L74.86,-6.60L75.95,-3.30L78.12,-1.10L80.29,0.00M82.46,0.00L84.63,-1.10L86.80,-3.30L87.88,-6.60L87.88,-8.80L86.80,-12.10L84.63,-14.30L82.46,-15.40M101.99,-15.40L98.73,-14.30L96.56,-12.10L95.48,-8.80L95.48,-6.60L96.56,-3.30L98.73,-1.10L101.99,0.00L104.16,0.00L107.41,-1.10L109.58,-3.30L110.67,-6.60L110.67,-8.80L109.58,-12.10L107.41,-14.30L104.16,-15.40L101.99,-15.40M101.99,-15.40L99.82,-14.30L97.65,-12.10L96.56,-8.80L96.56,-6.60L97.65,-3.30L99.82,-1.10L101.99,0.00M104.16,0.00L106.33,-1.10L108.50,-3.30L109.58,-6.60L109.58,-8.80L108.50,-12.10L106.33,-14.30L104.16,-15.40M119.35,-23.10L119.35,0.00M120.44,-23.10L120.44,0.00M116.09,-23.10L120.44,-23.10M116.09,0.00L123.69,0.00M130.20,-8.80L143.22,-8.80L143.22,-11.00L142.13,-13.20L141.05,-14.30L138.88,-15.40L135.62,-15.40L132.37,-14.30L130.20,-12.10L129.12,-8.80L129.12,-6.60L130.20,-3.30L132.37,-1.10L135.62,0.00L137.79,0.00L141.05,-1.10L143.22,-3.30M142.13,-8.80L142.13,-12.10L141.05,-14.30M135.62,-15.40L133.46,-14.30L131.28,-12.10L130.20,-8.80L130.20,-6.60L131.28,-3.30L133.46,-1.10L135.62,0.00M162.75,-23.10L162.75,0.00M163.83,-23.10L163.83,0.00M162.75,-12.10L160.58,-14.30L158.41,-15.40L156.24,-15.40L152.98,-14.30L150.81,-12.10L149.73,-8.80L149.73,-6.60L150.81,-3.30L152.98,-1.10L156.24,0.00L158.41,0.00L160.58,-1.10L162.75,-3.30M156.24,-15.40L154.07,-14.30L151.90,-12.10L150.81,-8.80L150.81,-6.60L151.90,-3.30L154.07,-1.10L156.24,0.00M159.50,-23.10L163.83,-23.10M162.75,0.00L167.09,0.00" fill="none" stroke="#ff0000" stroke-width="1.7" stroke-linecap="round" stroke-linejoin="round"/></g>
</svg></body></html>
